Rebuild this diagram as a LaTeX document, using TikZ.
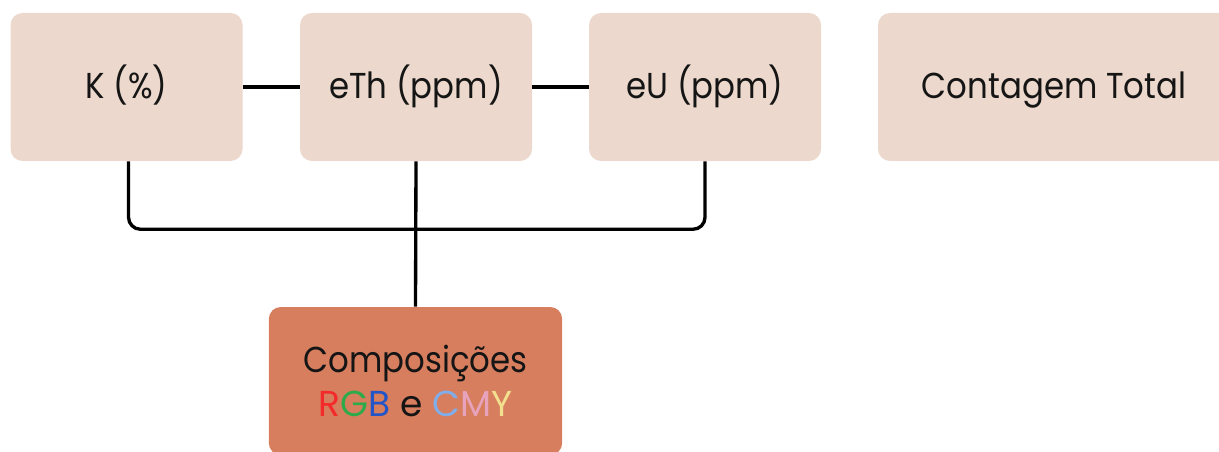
\documentclass[tikz,border=0pt]{standalone}
\usepackage{fontspec}
\setmainfont{Poppins}[FakeStretch=0.9]
\newfontfamily\widefont{Poppins}
\definecolor{boxfill}{HTML}{ECD8CC}
\definecolor{compfill}{HTML}{D77E5F}
\definecolor{txt}{HTML}{151515}
\definecolor{cR}{HTML}{F42A2A}
\definecolor{cG}{HTML}{2DAA4A}
\definecolor{cB}{HTML}{2255C8}
\definecolor{cC}{HTML}{7FAEEA}
\definecolor{cM}{HTML}{E8A3BC}
\definecolor{cY}{HTML}{F3E08F}
\begin{document}
\begin{tikzpicture}[x=0.75pt,y=-0.75pt,
  box/.style={fill=boxfill, draw=none, rounded corners=9pt, minimum width=174pt, minimum height=111pt, inner sep=0pt, text height=24pt, text depth=6pt, text=txt, font=\fontsize{27}{33}\selectfont},
  comp/.style={fill=compfill, draw=none, rounded corners=9pt, minimum width=220pt, minimum height=111pt, inner sep=0pt, text=txt, align=center, font=\fontsize{27}{35}\selectfont},
  conn/.style={draw=black, line width=2.5pt}]
\useasboundingbox (0,0) rectangle (1219,452);
\begin{scope}
\clip (0,0) rectangle (1219,452);
\node[box] (K) at (126.5,87) {K (\%)};
\node[box] (eTh) at (416,87) {eTh (ppm)};
\node[box] (eU) at (705,87) {eU (ppm)};
\node[box, minimum width=264pt] (CT) at (1054,87) {Contagem Total};
\node[comp] (comp) at (415.5,381) {Composições\\[-2pt]{\widefont{\color{cR}R}{\color{cG}G}{\color{cB}B} e {\color{cC}C}{\color{cM}M}{\color{cY}Y}}};
\draw[conn] (K.east) -- (eTh.west);
\draw[conn] (eTh.east) -- (eU.west);
\draw[conn, rounded corners=9pt] ([xshift=1.5pt]K.south) -- ++(0,-51pt) -| (eU.south);
\draw[conn] (eTh.south) -- (comp.north);
\end{scope}
\end{tikzpicture}
\end{document}
